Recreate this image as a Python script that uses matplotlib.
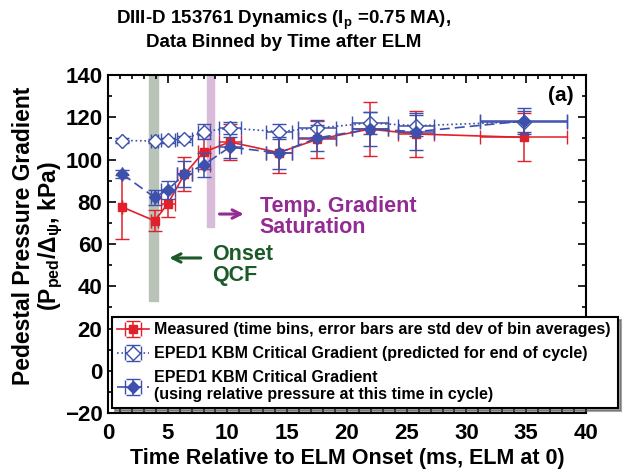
import numpy as np
import matplotlib
matplotlib.use("Agg")
import matplotlib.pyplot as plt
from matplotlib.ticker import MultipleLocator

plt.rcParams['font.family'] = ['Liberation Sans', 'DejaVu Sans']
plt.rcParams['font.weight'] = 'bold'
plt.rcParams['mathtext.default'] = 'regular'

# time bins (ms after ELM)
t = [1.2, 3.9, 5.0, 6.4, 8.0, 10.2, 14.3, 17.5, 21.9, 25.8, 34.8]
t_err = [0.0, 0.3, 0.6, 0.6, 0.5, 0.9, 1.1, 1.6, 1.5, 1.5, 3.65]

# measured pedestal pressure gradient
meas = [77.5, 71.0, 79.0, 93.0, 103.5, 108.3, 103.3, 109.5, 114.4, 112.1, 110.5]
meas_err = [15.0, 5.0, 6.0, 8.0, 8.0, 8.5, 9.7, 8.7, 12.8, 11.0, 11.3]

# EPED1 predicted for end of cycle (open diamonds)
eped_end = [109.0, 108.8, 109.2, 109.7, 113.2, 114.9, 113.2, 114.9, 117.3, 116.0, 117.9]
eped_end_err = [1.0, 1.0, 1.2, 1.5, 3.5, 3.0, 3.5, 4.0, 5.0, 5.0, 5.0]

# EPED1 using relative pressure at this time (filled diamonds)
eped_rel = [93.1, 82.1, 85.6, 93.1, 97.4, 105.9, 103.1, 110.2, 114.4, 113.2, 118.2]
eped_rel_err = [2.0, 3.7, 4.2, 6.0, 5.5, 5.0, 7.5, 6.0, 8.0, 8.7, 6.0]

red = '#e0202a'
blue = '#3c50ac'

fig = plt.figure(figsize=(6.24, 4.75), dpi=100)
ax = fig.add_axes([0.173, 0.1305, 0.766, 0.7115])

# shaded time markers
ax.axvspan(3.4, 4.2, ymin=(33 + 20) / 160, ymax=1, color='#b9c3b7', zorder=0)
ax.axvspan(8.25, 8.9, ymin=(68 + 20) / 160, ymax=1, color='#d9bcd9', zorder=0)

ax.errorbar(t, meas, yerr=meas_err, xerr=t_err, color=red, ls='-', lw=1.2,
            marker='s', ms=6, capsize=5, elinewidth=1.1, zorder=3,
            label='Measured (time bins, error bars are std dev of bin averages)')
ax.errorbar(t, eped_end, yerr=eped_end_err, xerr=t_err, color=blue, ls=':', lw=1.2,
            marker='D', ms=7, mfc='white', mec=blue, capsize=5, elinewidth=1.1, zorder=4,
            label='EPED1 KBM Critical Gradient (predicted for end of cycle)')
ax.errorbar(t, eped_rel, yerr=eped_rel_err, xerr=t_err, color=blue, ls='--', lw=1.2,
            dashes=(6, 3), marker='D', ms=6.5, capsize=5, elinewidth=1.1, zorder=5,
            label='EPED1 KBM Critical Gradient\n(using relative pressure at this time in cycle)')

# annotations
ax.annotate('', xy=(11.6, 74.2), xytext=(9.1, 74.2),
            arrowprops=dict(arrowstyle='->', color='#932b92', lw=2.2, mutation_scale=15))
ax.text(12.7, 73, 'Temp. Gradient\nSaturation', color='#932b92', fontsize=15.5,
        fontweight='bold', va='center', ha='left', linespacing=1.0)
ax.annotate('', xy=(4.9, 53.4), xytext=(8.0, 53.4),
            arrowprops=dict(arrowstyle='->', color='#1c5a2a', lw=2.2, mutation_scale=15))
ax.text(8.75, 50, 'Onset\nQCF', color='#1c5a2a', fontsize=15.5,
        fontweight='bold', va='center', ha='left', linespacing=1.0)
ax.text(37.9, 130.5, '(a)', fontsize=15, fontweight='bold', ha='center', va='center')

ax.set_xlim(0, 40)
ax.set_ylim(-20, 140)
ax.xaxis.set_major_locator(MultipleLocator(5))
ax.xaxis.set_minor_locator(MultipleLocator(1))
ax.yaxis.set_major_locator(MultipleLocator(20))
ax.yaxis.set_minor_locator(MultipleLocator(10))
ax.tick_params(which='both', direction='in', top=True, right=True, labelsize=16, width=1.2)
ax.tick_params(which='major', length=6)
ax.tick_params(which='minor', length=3)
ax.tick_params(axis='x', pad=7)
ax.tick_params(axis='y', pad=4)
for s in ax.spines.values():
    s.set_linewidth(1.5)

ax.set_xlabel('Time Relative to ELM Onset (ms, ELM at 0)', fontsize=15.5, fontweight='bold', labelpad=3)
ax.set_ylabel('Pedestal Pressure Gradient\n(P$_{ped}$/$\\Delta_\\psi$, kPa)', fontsize=16.5,
              fontweight='bold', linespacing=1.1)
ax.yaxis.set_label_coords(-0.09, 0.525)
ax.set_title('DIII-D 153761 Dynamics (I$_p$ =0.75 MA),\nData Binned by Time after ELM',
             fontsize=13.5, fontweight='bold', pad=20, linespacing=1.2, x=0.368)

leg = ax.legend(loc='lower left', bbox_to_anchor=(0.008, 0.015, 1.059, 0.305), mode='expand',
                fontsize=11.5, frameon=True, fancybox=False, shadow=True, edgecolor='black',
                borderpad=0.35, labelspacing=0.55, handlelength=2.0, handletextpad=0.3,
                borderaxespad=0)
leg.get_frame().set_linewidth(1.5)
leg.set_zorder(10)

fig.savefig('out.png', dpi=100)
